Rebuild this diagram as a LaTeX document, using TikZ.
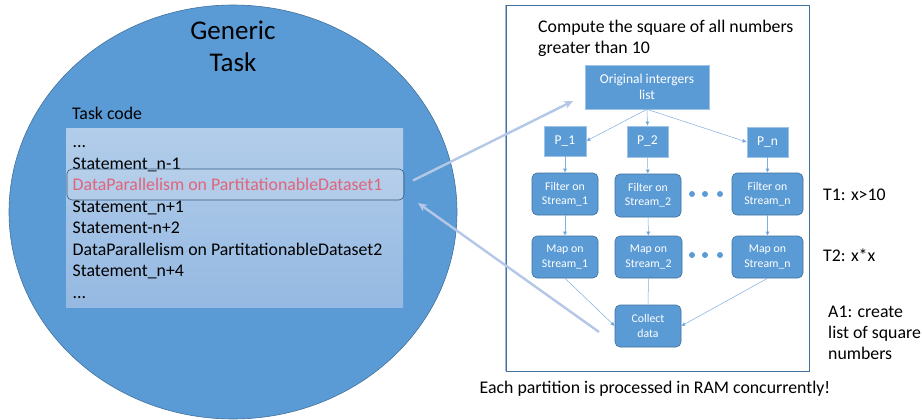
\documentclass[tikz,border=0pt]{standalone}
\usepackage{fontspec}
\setmainfont{Carlito}
\usetikzlibrary{arrows.meta,shapes.geometric}
\definecolor{cblue}{HTML}{5B9BD5}
\definecolor{cdark}{HTML}{41719C}
\definecolor{clight}{HTML}{9DC3E6}
\definecolor{carrow}{HTML}{B4C7E7}
\definecolor{cthin}{HTML}{7FAEE0}
\definecolor{cred}{HTML}{E0647A}
\definecolor{codetop}{HTML}{B2CDEA}
\definecolor{codebot}{HTML}{95B9E2}
\tikzset{
  sqbox/.style={draw=clight,fill=cblue,text=white,font=\fontsize{13.5}{16}\selectfont,align=center,inner sep=0pt,line width=0.6pt},
  rbox/.style={draw=cdark,fill=cblue,text=white,rounded corners=5pt,font=\fontsize{11.8}{14.3}\selectfont,align=center,inner sep=0pt,line width=0.6pt},
  codeline/.style={anchor=base west,inner sep=0pt,font=\fontsize{17.8}{21}\selectfont},
  lbl/.style={anchor=west,inner sep=0pt,font=\fontsize{17.8}{21}\selectfont,align=left},
  thin/.style={draw=cthin,line width=0.5pt,-{Latex[length=4pt,width=4pt,fill=cblue]}},
  big/.style={draw=carrow,line width=2.4pt,-{Stealth[length=9pt,width=8pt]}},
  dot/.style={circle,fill=cblue,inner sep=0pt,minimum size=6pt}
}
\begin{document}
\begin{tikzpicture}[x=1pt,y=-1pt]
\useasboundingbox (0,0) rectangle (922,420);
% left ellipse
\node[ellipse,draw=cdark,fill=cblue,line width=0.6pt,minimum width=448pt,minimum height=414pt,inner sep=0pt] (task) at (233,212) {};
\node[anchor=base,inner sep=0pt,font=\fontsize{27}{31}\selectfont] (gen1) at (233,40) {Generic};
\node[anchor=base,inner sep=0pt,font=\fontsize{27}{31}\selectfont] (gen2) at (233,72) {Task};
\node[codeline] (tc) at (72,120) {Task code};
\node[inner sep=0pt,minimum width=337pt,minimum height=179pt,top color=codetop,bottom color=codebot,draw=none] (code) at (234.5,217.5) {};
\node[codeline] (l0) at (72.5,147) {...};
\node[codeline] (l1) at (72.5,169) {Statement\_n-1};
\node[draw=cdark!80!black,fill=white,fill opacity=0.12,rounded corners=5pt,line width=0.6pt,minimum width=337pt,minimum height=31pt,inner sep=0pt] (hl) at (235.5,184.5) {};
\node[codeline,text=cred] (l2) at (72.5,190.5) {DataParallelism on PartitationableDataset1};
\node[codeline] (l3) at (72.5,212) {Statement\_n+1};
\node[codeline] (l4) at (72.5,233.5) {Statement-n+2};
\node[codeline] (l5) at (72.5,255) {DataParallelism on PartitationableDataset2};
\node[codeline] (l6) at (72.5,276.5) {Statement\_n+4};
\node[codeline] (l7) at (72.5,298) {...};
% right frame
\node[draw=cdark,fill=white,line width=0.8pt,minimum width=303pt,minimum height=366pt,inner sep=0pt] (frame) at (657.5,188) {};
\draw[draw=carrow!80!cdark,line width=0.8pt] (frame.north west) -- (frame.south west);
\node[lbl] (title) at (538,38) {Compute the square of all numbers\\greater than 10};
\node[sqbox,minimum width=124pt,minimum height=44pt] (orig) at (647,87) {Original intergers\\list};
\node[sqbox,minimum width=42pt,minimum height=30pt] (p1) at (565,141) {P\_1};
\node[sqbox,minimum width=41pt,minimum height=31pt] (p2) at (647.5,141.5) {P\_2};
\node[sqbox,minimum width=41pt,minimum height=30pt] (pn) at (767.5,142) {P\_n};
\node[rbox,minimum width=66pt,minimum height=42pt] (f1) at (565,194) {Filter on\\Stream\_1};
\node[rbox,minimum width=66pt,minimum height=43pt] (f2) at (648,195.5) {Filter on\\Stream\_2};
\node[rbox,minimum width=71pt,minimum height=42pt] (fn) at (767.5,194) {Filter on\\Stream\_n};
\node[rbox,minimum width=66pt,minimum height=42pt] (m1) at (565,257) {Map on\\Stream\_1};
\node[rbox,minimum width=67pt,minimum height=42pt] (m2) at (648.5,257) {Map on\\Stream\_2};
\node[rbox,minimum width=71pt,minimum height=42pt] (mn) at (767.5,257) {Map on\\Stream\_n};
\node[rbox,minimum width=66pt,minimum height=42pt] (col) at (648,326) {Collect\\data};
\node[dot] (d1) at (692,194) {};
\node[dot] (d2) at (705,194) {};
\node[dot] (d3) at (720,194) {};
\node[dot] (e1) at (692,255) {};
\node[dot] (e2) at (705,255) {};
\node[dot] (e3) at (720,255) {};
% thin arrows
\draw[thin] (orig.south) -- (p1.east);
\draw[thin] (orig.south) -- (p2.north);
\draw[thin] (orig.south) -- (pn.west);
\draw[thin] (p1) -- (f1);
\draw[thin] (p2) -- (f2);
\draw[thin] (pn) -- (fn);
\draw[thin] (f1) -- (m1);
\draw[thin] (f2) -- (m2);
\draw[thin] (fn) -- (mn);
\draw[thin] (m1.south) -- (col.west);
\draw[draw=cthin,line width=0.5pt] (m2.south) -- (col.north);
\draw[thin] (mn.south) -- (col.east);
% big arrows
\coordinate (a1s) at (413,180.5);
\coordinate (a1e) at (573,101);
\coordinate (a2s) at (599,332);
\coordinate (a2e) at (418,203);
\draw[big] (a1s) -- (a1e);
\draw[big] (a2s) -- (a2e);
% side labels
\node[lbl] (t1) at (823,195) {T1: x>10};
\node[lbl] (t2) at (823,255) {T2: x*x};
\node[lbl] (a1) at (828,333) {A1: create\\list of square\\numbers};
\node[inner sep=0pt,font=\fontsize{17.8}{21}\selectfont] (foot) at (655,389) {Each partition is processed in RAM concurrently!};
\end{tikzpicture}
\end{document}
